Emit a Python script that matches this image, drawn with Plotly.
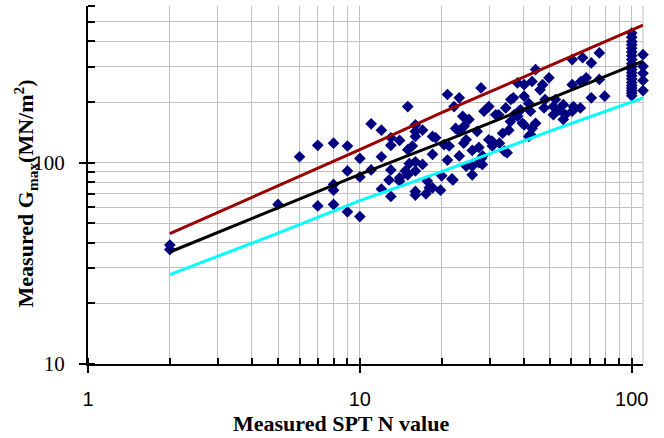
import plotly.graph_objects as go

# Measured data: SPT N value vs Gmax (MN/m2)
spt_n = [2, 2, 5, 6, 7, 7, 8, 8, 8, 8, 9, 9, 9, 10, 10, 10, 11, 11, 12, 12, 12,
         13, 13, 13, 13, 14, 14, 14, 12.8, 14.7, 15, 15, 15.6, 15.2, 15,
         16, 16, 16, 16, 16, 16, 16, 17, 17, 17.5, 17.7, 18, 18.5, 18.5, 18.5,
         19, 19.8, 20, 20.4, 21, 21, 21.3, 21.8, 22, 22.2, 22.5, 23.2, 23.2, 23.2,
         23.9, 24.1, 24.2, 24.6, 24.6, 25.2, 25.9, 25.9, 25.9, 27, 27.4, 27.4,
         27.9, 28, 28.3, 28.6, 28.2, 29.8, 29.8, 30.6, 30.7, 31.6, 32.4, 32.6,
         33.5, 34, 34.4, 34.8, 35.3, 35.9, 35.8, 36.9, 36.7, 38, 38.4, 38, 39,
         39.6, 40.2, 40.2, 40.2, 41.8, 41.8, 42.4, 42.4, 43, 43, 44.3, 44.3, 46,
         47, 47.6, 48, 49.6, 51.5, 51.5, 52.4, 54, 56, 56, 57, 60.4, 60.4, 60.4,
         61, 64.7, 65, 66, 68, 71, 71, 76, 76, 79.5,
         100, 100, 100, 100, 100, 100, 100, 100, 100, 100,
         100, 100, 100, 100, 100, 100, 100, 100, 100, 100,
         110, 110, 110, 110, 110]
g_max = [39, 37, 62, 107, 122, 61, 125, 78, 73, 62, 121, 91, 57, 105, 85, 54, 156, 92, 145, 107, 74,
         133, 122, 92, 68, 129, 84, 81, 82, 91, 190, 116, 121, 99, 87,
         154, 143, 135, 101, 91, 72, 69, 145, 98, 70, 81, 75, 135, 110, 75,
         133, 73, 86, 123, 218, 103, 121, 83, 82, 190, 148, 210, 143, 108,
         170, 125, 152, 130, 96, 164, 115, 96, 87, 143, 119, 100,
         235, 105, 108, 180, 98, 190, 130, 128, 121, 173, 173, 125,
         140, 114, 187, 112, 145, 206, 160, 173, 210, 170, 180, 249, 183,
         157, 214, 244, 154, 197, 135, 180, 138, 253, 148, 290, 157, 230,
         244, 187, 206, 264, 190, 173, 206, 183, 194, 164, 173, 325, 244, 180,
         190, 187, 253, 332, 264, 313, 210, 351, 259, 214,
         440, 420, 400, 385, 370, 355, 340, 325, 310, 300,
         290, 280, 270, 260, 250, 242, 235, 228, 222, 215,
         344, 301, 278, 256, 228]

# Correlation lines
line_n = [2, 5, 10, 20, 50, 110]
upper_g = [44.4, 76.6, 116, 177, 304, 482]
mean_g = [36, 60, 87.5, 126, 208, 319]
lower_g = [27.8, 44.7, 64.8, 90.2, 143.6, 210]

x_ticks = [1, 10, 100]
y_ticks = [10, 100]

fig = go.Figure()
fig.add_trace(go.Scatter(x=spt_n, y=g_max, mode="markers", cliponaxis=False,
                         marker=dict(symbol="diamond", size=9, color="#000080",
                                     line=dict(width=0)),
                         showlegend=False))
fig.add_trace(go.Scatter(x=line_n, y=upper_g, mode="lines",
                         line=dict(color="#990000", width=3), showlegend=False))
fig.add_trace(go.Scatter(x=line_n, y=mean_g, mode="lines",
                         line=dict(color="#000000", width=3), showlegend=False))
fig.add_trace(go.Scatter(x=line_n, y=lower_g, mode="lines",
                         line=dict(color="#00FFFF", width=3), showlegend=False))

grid = "#c0c0c0"
fig.update_layout(
    width=664, height=438,
    margin=dict(l=88, r=21, t=6, b=74),
    paper_bgcolor="white", plot_bgcolor="white",
    xaxis=dict(type="log", range=[0, 2.0414], tickvals=x_ticks,
               ticktext=[str(v) for v in x_ticks],
               ticks="outside", ticklen=7, tickwidth=1.5, tickcolor="black",
               showline=True, linecolor="black", linewidth=2,
               showgrid=True, gridcolor=grid, gridwidth=1, zeroline=False,
               ticklabelstandoff=9,
               tickfont=dict(family="Liberation Sans, Arial", size=20, color="black"),
               minor=dict(dtick="D1", ticks="inside", ticklen=6, tickcolor="black",
                          tickwidth=1.5, showgrid=True, gridcolor=grid, gridwidth=1)),
    yaxis=dict(type="log", range=[1, 2.77815], tickvals=y_ticks,
               ticktext=[str(v) for v in y_ticks],
               ticks="outside", ticklen=7, tickwidth=1.5, tickcolor="black",
               showline=True, linecolor="black", linewidth=2,
               showgrid=True, gridcolor=grid, gridwidth=1, zeroline=False,
               ticklabelstandoff=10,
               tickfont=dict(family="Liberation Serif, Times New Roman", size=21, color="black"),
               minor=dict(dtick="D1", ticks="inside", ticklen=7, tickcolor="black",
                          tickwidth=1.5, showgrid=True, gridcolor=grid, gridwidth=1)),
    shapes=[dict(type="line", xref="paper", yref="paper", x0=1, x1=1, y0=0, y1=1,
                 line=dict(color=grid, width=1), layer="below")],
    annotations=[
        dict(text="<b>Measured SPT N value</b>", xref="paper", yref="paper",
             x=0.456, y=-0.165, xanchor="center", yanchor="middle", showarrow=False,
             font=dict(family="Liberation Serif, Times New Roman", size=22, color="black")),
        dict(text="<b>Measured G<sub>max</sub>(MN/m<sup>2</sup>)</b>", xref="paper", yref="paper",
             x=-0.112, y=0.476, xanchor="center", yanchor="middle", showarrow=False,
             textangle=-90,
             font=dict(family="Liberation Serif, Times New Roman", size=22, color="black")),
    ],
)

fig.write_html("out.html", config={"displayModeBar": False},
               post_script="document.body.style.margin='0';")
